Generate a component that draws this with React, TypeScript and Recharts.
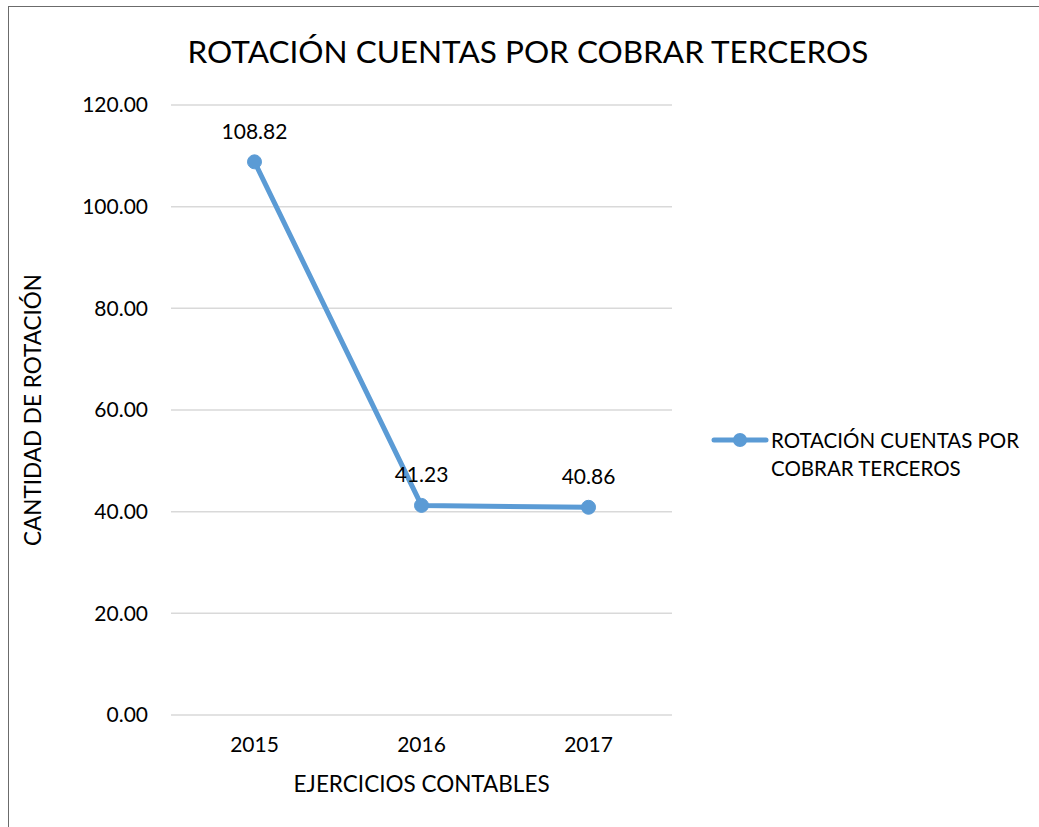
import { LineChart, Line, XAxis, YAxis, CartesianGrid, LabelList } from "recharts";

const years = ["2015", "2016", "2017"];
const rotation = [108.82, 41.23, 40.86];
const yTicks = [0, 20, 40, 60, 80, 100, 120];

const seriesName = "ROTACIÓN CUENTAS POR COBRAR TERCEROS";
const FONT = "Lato, 'Open Sans', sans-serif";
const BLUE = "#5B9BD5";

const data = years.map((y, i) => ({ year: y, value: rotation[i] }));

// legend drawn as an overlay so it doesn't steal space from the plot
function LegendBox() {
  return (
    <div
      style={{
        position: "absolute",
        left: 702,
        top: 419,
        display: "flex",
        alignItems: "flex-start",
        fontFamily: FONT,
        fontSize: 20.5,
        color: "#000",
      }}
    >
      <svg width={58} height={28} style={{ flex: "none" }}>
        <line x1={3} y1={14} x2={55} y2={14} stroke={BLUE} strokeWidth={5} strokeLinecap="round" />
        <circle cx={29} cy={14} r={7} fill={BLUE} />
      </svg>
      <div style={{ lineHeight: "28px", marginLeft: 2, whiteSpace: "nowrap" }}>
        ROTACIÓN CUENTAS POR
        <br />
        COBRAR TERCEROS
      </div>
    </div>
  );
}

export default function App() {
  return (
    <div
      style={{
        position: "absolute",
        left: 8,
        top: 6,
        width: 1031,
        height: 821,
        borderTop: "1px solid #6b6b6b",
        borderLeft: "1px solid #6b6b6b",
        background: "#fff",
      }}
    >
      <div
        style={{
          position: "absolute",
          left: 0,
          width: 1038,
          top: 25,
          textAlign: "center",
          fontFamily: FONT,
          fontSize: 31.5,
          color: "#000",
        }}
      >
        {seriesName}
      </div>
      <LineChart width={1030} height={820} data={data} margin={{ top: 98, right: 367, bottom: 82, left: 0 }}>
        <CartesianGrid vertical={false} stroke="#d9d9d9" strokeWidth={1.5} />
        <XAxis
          dataKey="year"
          height={30}
          padding={{ left: 83.5, right: 83.5 }}
          axisLine={false}
          tickLine={false}
          tickSize={0}
          tickMargin={22}
          tick={{ fontFamily: FONT, fontSize: 21, fill: "#000" }}
          label={(props: any) => {
            const vb = props.viewBox;
            return (
              <text
                x={vb.x + vb.width / 2}
                y={vb.y + 68}
                textAnchor="middle"
                dominantBaseline="central"
                fontFamily={FONT}
                fontSize={22.5}
                fill="#000"
              >
                EJERCICIOS CONTABLES
              </text>
            );
          }}
        />
        <YAxis
          width={162}
          domain={[0, 120]}
          ticks={yTicks}
          axisLine={false}
          tickLine={false}
          tickSize={0}
          tickMargin={23}
          tickFormatter={(v: number) => v.toFixed(2)}
          tick={{ fontFamily: FONT, fontSize: 21, fill: "#000" }}
          label={(props: any) => {
            const vb = props.viewBox;
            const cx = vb.x + 23;
            const cy = vb.y + vb.height / 2;
            return (
              <text
                x={cx}
                y={cy}
                transform={`rotate(-90, ${cx}, ${cy})`}
                textAnchor="middle"
                dominantBaseline="central"
                fontFamily={FONT}
                fontSize={22.5}
                fill="#000"
              >
                CANTIDAD DE ROTACIÓN
              </text>
            );
          }}
        />
        <Line
          name={seriesName}
          dataKey="value"
          stroke={BLUE}
          strokeWidth={5}
          dot={{ r: 7, fill: BLUE, stroke: BLUE, strokeWidth: 1 }}
          activeDot={false}
          isAnimationActive={false}
        >
          <LabelList
            dataKey="value"
            position="top"
            offset={23}
            formatter={(v: any) => Number(v).toFixed(2)}
            style={{ fontFamily: FONT, fontSize: 21, fill: "#000" }}
          />
        </Line>
      </LineChart>
      <LegendBox />
    </div>
  );
}
